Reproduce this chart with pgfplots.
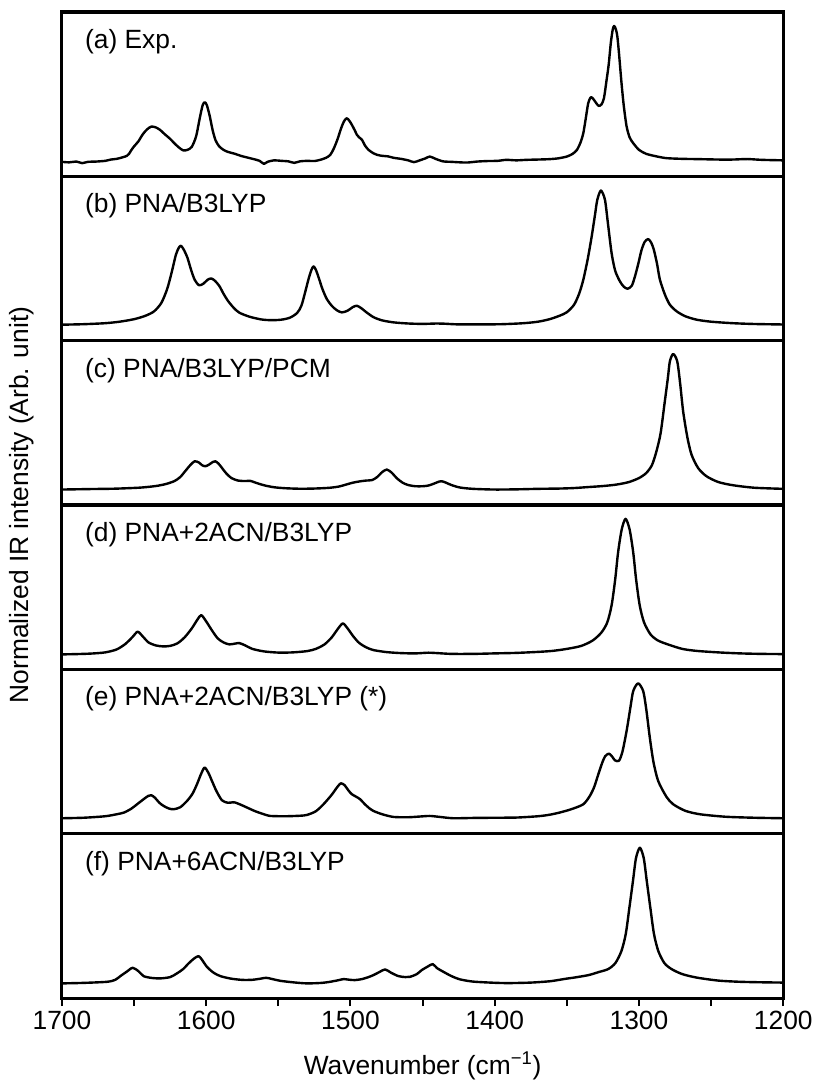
\documentclass[border=0pt]{standalone}
\usepackage{fontspec}
\setmainfont{Liberation Sans}
\usepackage{pgfplots}
\pgfplotsset{compat=1.18}
\begin{document}
\begin{tikzpicture}[font=\fontsize{19.8}{23}\selectfont]
\pgfplotsset{
 panel/.style={scale only axis, width=541.5pt, height=123.375pt, xmin=1200, xmax=1700, x dir=reverse,
   ymin=0, ymax=164.5, axis line style={line width=2.3pt}, xtick=\empty, ytick=\empty, anchor=south west},
 spec/.style={black, line width=1.8pt, line join=round, smooth, tension=0.45, no markers},
}
\useasboundingbox (-46.5pt,-62.25pt) rectangle (564.75pt,749.25pt);

% (a)
\begin{axis}[panel, at={(0pt,616.875pt)}]
\addplot[spec] coordinates {
(1700,14.5)(1695,14.0)(1690,14.8)(1686,13.2)(1682,14.5)(1676,14.8)(1670,15.5)(1666,16.8)(1662,17.5)(1658,19)
(1655,20.5)(1653.5,22.5)(1652,26)(1650,30)(1647,35)(1644,42)(1641,47)(1638,49.8)(1635,49)(1632,46.5)
(1629,42.5)(1625,37.5)(1622,33)(1619,29)(1616,26)(1613,26.5)(1610,29.5)(1607,40)(1604.5,58)(1602.5,71)
(1601,74.2)(1599.5,71)(1597.5,60)(1595.5,46)(1593.5,36)(1591,30)(1588,26.5)(1585,24.5)(1580,22.5)(1576,20.5)
(1572,19)(1567,17.2)(1563,15.5)(1560,12.5)(1557.5,14.5)(1553,16)(1548,15.5)(1543,15)(1539,13.5)(1535,15)
(1530,15.5)(1525,15.3)(1521,16.5)(1517,18.5)(1514,21.5)(1511.5,28)(1509,37)(1506.5,48)(1504.5,55)(1502.5,58.2)
(1500.5,55)(1499,51.5)(1497,46)(1495.5,41.5)(1494,39)(1492,36.5)(1490,31)(1487.5,26.5)(1484,23)(1481.5,21.5)
(1478,20.5)(1474,20)(1470,18.5)(1465,17.5)(1460,16)(1456,14.2)(1452,16)(1448,18)(1445,19.8)(1441,17.5)
(1436,15)(1430,14.5)(1424,14)(1419,13.8)(1412,14.8)(1405,15.3)(1398,15.5)(1392,16.5)(1385,16)(1378,16.5)
(1370,16.8)(1362,17.2)(1356,18)(1350,19.8)(1346,22.5)(1343,26.5)(1340.5,34)(1338.6,43.2)(1337,57)(1335.2,73.2)
(1333.5,79)(1332,78)(1330,74)(1328,70.5)(1326,72)(1324.3,78.2)(1322.5,96)(1321,112)(1319.5,134)(1318.2,147)
(1317.2,150.5)(1316,147)(1315,140)(1313.8,122)(1312.1,93)(1310.5,70)(1308.6,50)(1306.5,39)(1304,33.2)(1300,26.5)
(1295,22.5)(1288,20)(1281,18.2)(1270,17.5)(1258,17.2)(1245,16.8)(1235,16.8)(1225,17.3)(1215,16.5)(1200,16)
};
\node[anchor=west] at (rel axis cs:0.0256,0.82) {(a) Exp.};
\end{axis}

% (b)
\begin{axis}[panel, at={(0pt,493.5pt)}]
\addplot[spec] coordinates {
(1700,16)(1685,16.5)(1670,17.5)(1660,19)(1650,21.5)(1642,25)(1636,29.5)(1631,38)(1627,52)(1624,68)
(1621,86)(1619,93)(1617.5,95)(1615.5,91)(1613,83)(1610.5,71)(1608,61)(1605,55.5)(1602,57)(1599,61)
(1596.5,62.3)(1594,60)(1591,55)(1588,47)(1585,40)(1581,33)(1577,28)(1570,24)(1562,21.3)(1555,20.5)
(1548,21)(1542,23)(1537,27.7)(1534,35)(1531.5,48)(1529,62)(1527,71)(1525.6,74.3)(1524,71)(1522,63)
(1519.5,52)(1516.5,42)(1513,35)(1509.5,30.5)(1506,28.3)(1502,30)(1498.5,33.5)(1495.6,35)(1492.5,32.5)(1489,28.5)
(1484,23.5)(1478,20.3)(1470,18.3)(1460,17.2)(1450,16.8)(1440,17.2)(1435,17)(1425,16.3)(1410,16.3)(1395,16.5)
(1380,17.5)(1370,19)(1362,21.5)(1355,25)(1350,28.5)(1345,36)(1341.5,47)(1338.6,61)(1335.5,82)(1332.8,104.3)
(1330.5,126)(1328.9,141)(1326.4,150.3)(1323.6,141)(1321.5,117)(1319,87.7)(1316.5,70)(1313.2,59.3)(1310.5,54)(1307.9,52)
(1305,55)(1302.8,64.3)(1300.5,77)(1298.2,91)(1296,99)(1293.6,101.7)(1291.5,98)(1289.7,91)(1287.5,77)(1285.5,61)
(1282,46)(1278.6,36)(1274,29.5)(1268,24.5)(1260,21)(1250,19)(1235,17.5)(1220,16.7)(1200,16.2)
};
\node[anchor=west] at (rel axis cs:0.0256,0.82) {(b) PNA/B3LYP};
\end{axis}

% (c)
\begin{axis}[panel, at={(0pt,370.125pt)}]
\addplot[spec] coordinates {
(1700,15.5)(1680,16)(1665,16.3)(1655,16.8)(1645,17.5)(1635,19)(1628,21)(1622,24)(1618,28)(1614.5,34)
(1611,40)(1608,43.8)(1605,42.5)(1603,40)(1600.6,38.8)(1598,40.5)(1595.5,43)(1593.7,43.8)(1591.5,41.5)(1589,37)
(1586,31.5)(1582.5,27)(1578,24.5)(1573,24)(1569.5,24.2)(1566,22.5)(1560,19.8)(1553,17.8)(1545,16.8)(1535,16.3)
(1525,16.5)(1515,17.2)(1508,18.5)(1503,20.5)(1498,22.5)(1493,23.8)(1489,24.5)(1485,25)(1481.5,28)(1478,33)
(1474.8,35.5)(1471.5,32.5)(1468,27)(1464,22.5)(1460,20)(1455,18.8)(1450,18.8)(1446,19.5)(1442,21.5)(1438.5,23.5)
(1436.7,23.8)(1434,22.5)(1430,20)(1424,17.5)(1415,16.2)(1400,15.5)(1385,15.7)(1370,16.2)(1355,16.5)(1345,17)
(1335,18)(1325,19)(1315.5,20.5)(1307,23)(1300,27)(1295,32)(1291,40)(1287.9,53.8)(1285,72)(1282.1,103.8)
(1280,127)(1278.6,143.8)(1276.3,151.2)(1273.5,143.8)(1271.5,122)(1269.4,93.8)(1266.5,68)(1263.6,50.5)(1259,37)(1253.2,28.8)
(1245,23)(1234.8,19.8)(1220,17.3)(1200,16.2)
};
\node[anchor=west] at (rel axis cs:0.0256,0.82) {(c) PNA/B3LYP/PCM};
\end{axis}

% (d)
\begin{axis}[panel, at={(0pt,246.75pt)}]
\addplot[spec] coordinates {
(1700,15)(1690,15.3)(1680,15.8)(1670,17)(1662,20)(1656,25.5)(1651,32.5)(1647.5,37.7)(1644,33)(1640,27)
(1635,24)(1630,23)(1625,23.5)(1620,26)(1615,32)(1610,41)(1606,50)(1603.4,54.3)(1600,48)(1596,39)
(1592,31)(1588,27)(1584,25)(1580,25.8)(1577,26.3)(1573,24)(1568,20.5)(1560,18)(1550,16.8)(1540,17)
(1530,18.3)(1524,20.5)(1518,25)(1513,32)(1509,40)(1505.3,46)(1502,41)(1498,33)(1494,26.5)(1489,22)
(1484,19.3)(1475,17.3)(1465,16.3)(1455,16)(1446,16.7)(1440,16.3)(1430,15.5)(1415,15.5)(1400,16)(1385,16.5)
(1370,17.5)(1360,18.5)(1350,20.5)(1340,23.5)(1332,29)(1326,37)(1322,47)(1319,64)(1316.5,90)(1314.5,117)
(1312,140)(1309.3,150.7)(1306.5,140)(1304,117)(1302,90)(1299.5,64)(1296.5,47)(1292,35)(1287,29)(1280,25)
(1270,20.5)(1260,18.5)(1245,17)(1230,16)(1215,15.5)(1200,15.3)
};
\node[anchor=west] at (rel axis cs:0.0256,0.82) {(d) PNA+2ACN/B3LYP};
\end{axis}

% (e)
\begin{axis}[panel, at={(0pt,123.375pt)}]
\addplot[spec] coordinates {
(1700,15.5)(1685,16)(1670,17.5)(1662,19.5)(1657,21.2)(1652,25)(1647.9,29.5)(1643,35)(1640,38)(1638,38.5)
(1635.5,36)(1632.5,31)(1629.5,27.8)(1626,25.3)(1622.6,24.5)(1618,26.5)(1613.3,32.8)(1609.5,40)(1606.4,49.5)(1603.5,60)
(1601.1,66.2)(1598.5,61)(1596,52.8)(1593,43)(1589.1,33.5)(1585,31)(1581.5,31.5)(1579.8,31.2)(1576,29)(1571.7,26.2)
(1566,22.5)(1560,19.5)(1555.6,17.8)(1545,17.5)(1535,18)(1530.2,18.8)(1524,22.5)(1518.7,29.5)(1513,39)(1509,47)
(1506.6,50.5)(1504,48.5)(1501.5,43.5)(1499,39.5)(1496,37)(1493.3,34.5)(1490,29.5)(1486.5,25)(1484.1,22.8)(1478,19.5)
(1470.2,16.8)(1460,16.5)(1452,17.2)(1445,17.8)(1438,16.8)(1428.7,15.5)(1415,15.8)(1400,16)(1384.8,16.2)(1370,17.5)
(1362,19)(1355,21.2)(1347,24.5)(1338.6,29.5)(1334,38)(1331,47)(1328.2,59.5)(1325.5,71)(1323.5,77.5)(1320.8,80.2)
(1318.5,77)(1316.7,73.5)(1313.9,73)(1311.5,82)(1308.6,102.8)(1306,126)(1304,142.8)(1300.6,150.5)(1297.1,142.8)(1295,125)
(1292.5,96.2)(1290,72)(1286.7,52.8)(1281,37)(1276.3,29.5)(1268,23)(1257.8,19.5)(1240,17)(1220,16)(1200,15.5)
};
\node[anchor=west] at (rel axis cs:0.0256,0.82) {(e) PNA+2ACN/B3LYP (*)};
\end{axis}

% (f)
\begin{axis}[panel, at={(0pt,0pt)}, xtick={1200,1300,...,1700}, minor xtick={1250,1350,...,1650},
  tick align=outside, xtick pos=lower, major tick length=6pt, minor tick length=6pt,
  tick style={line width=1.5pt, black},
  /pgf/number format/set thousands separator={}, /pgf/number format/assume math mode=true]
\addplot[spec] coordinates {
(1700,14.7)(1685,15.2)(1668.7,16.3)(1663,18.3)(1659.5,22)(1655,26.5)(1651,30.3)(1647,27)(1643.4,22)(1638,20.2)
(1631.8,19.7)(1625,21)(1620.3,24.7)(1616,29)(1612.2,34.7)(1608.5,39.5)(1605.3,42)(1603,38.5)(1599.5,31.3)(1595,25.5)
(1590.2,22)(1583,19.5)(1575,18.2)(1568,18.3)(1562,19.5)(1558.4,20.3)(1554,19)(1548.7,17.3)(1540,15.8)(1530.2,14.7)
(1520,15.2)(1514.1,16.3)(1508,18)(1504.8,19)(1501,18.4)(1497,18)(1492,19)(1487.5,21)(1484.1,23)(1480,26)
(1476,28.7)(1472,25.5)(1466.8,22)(1462,21)(1458.7,21.3)(1454,24)(1450.6,28)(1446.5,31.5)(1443,34)(1440,30)
(1435.6,26.3)(1430,22)(1424,18.7)(1415,16.5)(1400,15.3)(1390,15)(1375,15.5)(1362,16.8)(1355,18.3)(1350,19.5)
(1345,20.5)(1335,23)(1328,26)(1321.4,29)(1316.4,35)(1312.2,47)(1309.2,64)(1306.7,90)(1304.2,117)(1302.1,140)
(1299.4,150.5)(1296.7,140)(1294.6,117)(1292.1,90)(1289.6,64)(1286.6,47)(1282.4,35)(1277.4,29)(1270,24)(1260,20.5)
(1245,17.5)(1230,16.3)(1215,15.8)(1200,15.5)
};
\node[anchor=west] at (rel axis cs:0.0256,0.82) {(f) PNA+6ACN/B3LYP};
\end{axis}

\node at (270.75pt,-51pt) {Wavenumber (cm\textsuperscript{−1})};
\node[rotate=90] at (-30pt,370.125pt) {Normalized IR intensity (Arb. unit)};
\end{tikzpicture}
\end{document}
